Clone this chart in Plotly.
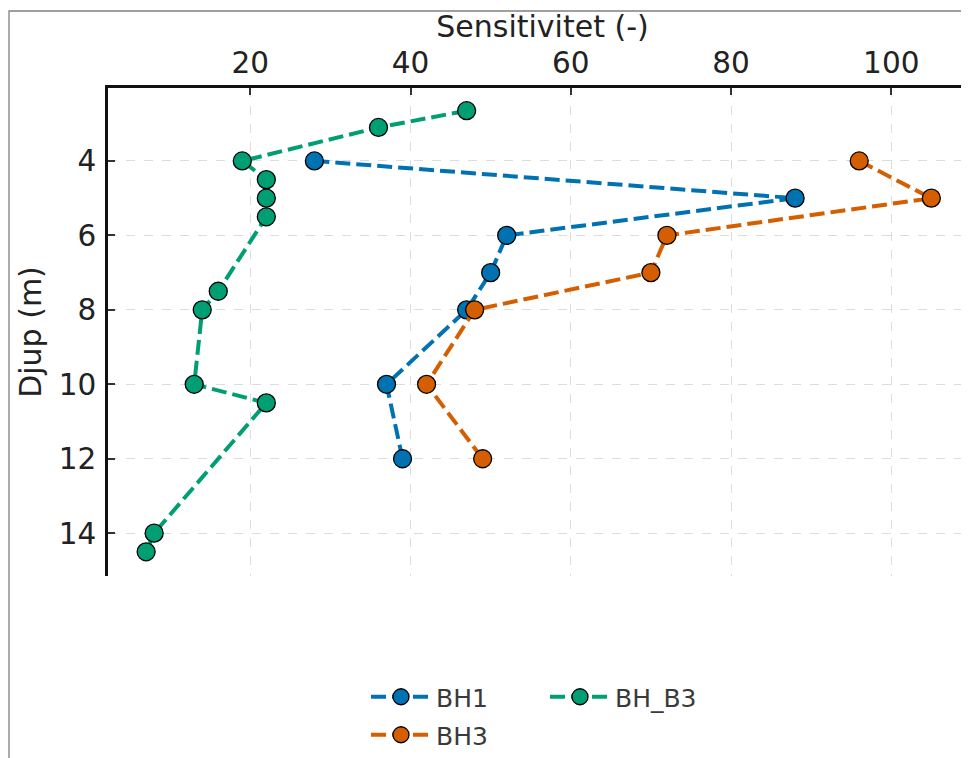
import plotly.graph_objects as go

# Data
depth_bh1 = [4, 5, 6, 7, 8, 10, 12]
sens_bh1 = [28, 88, 52, 50, 47, 37, 39]

depth_bh3 = [4, 5, 6, 7, 8, 10, 12]
sens_bh3 = [96, 105, 72, 70, 48, 42, 49]

depth_bhb3 = [2.65, 3.1, 4, 4.5, 5, 5.5, 7.5, 8, 10, 10.5, 14, 14.5]
sens_bhb3 = [47, 36, 19, 22, 22, 22, 16, 14, 13, 22, 8, 7]

series_names = ["BH1", "BH3", "BH_B3"]
colors = ["#0072B2", "#D55E00", "#009E73"]

FONT = "DejaVu Sans"

fig = go.Figure()
data = [(sens_bh1, depth_bh1), (sens_bh3, depth_bh3), (sens_bhb3, depth_bhb3)]
legends = ["legend", "legend2", "legend3"]
for (xs, ys), name, col, lg in zip(data, series_names, colors, legends):
    fig.add_trace(go.Scatter(
        x=xs, y=ys, name=name, mode="lines+markers",
        line=dict(color=col, width=4, dash="15px,6px"),
        marker=dict(size=18, color=col, line=dict(color="black", width=1.3)),
        legend=lg,
    ))

# page offset (browser body margin)
OFF = 8
W, H = 969, 758
ml, mr, mt, mb = 100, 0, 80, 190
pw, ph = W - ml - mr, H - mt - mb

def px_x(p):  # screen px -> paper
    return (p - OFF - ml) / pw

def px_y(p):
    return 1 - (p - OFF - mt) / ph

legend_font = dict(family=FONT, size=25, color="#3a3a3a")
common_leg = dict(bgcolor="rgba(0,0,0,0)", borderwidth=0, font=legend_font,
                  xanchor="left", yanchor="middle", orientation="v", itemwidth=60)

fig.update_layout(
    width=W, height=H,
    margin=dict(l=ml, r=mr, t=mt, b=mb, autoexpand=False),
    paper_bgcolor="white", plot_bgcolor="white",
    font=dict(family=FONT, color="#222222"),
    showlegend=True,
    legend=dict(x=px_x(366), y=px_y(697), **common_leg),
    legend2=dict(x=px_x(366), y=px_y(735), **common_leg),
    legend3=dict(x=px_x(545), y=px_y(697), **common_leg),
    xaxis=dict(
        side="top", range=[2.24, 110.7],
        tickvals=[20, 40, 60, 80, 100],
        tickfont=dict(family=FONT, size=29.5, color="#222222"),
        ticks="inside", ticklen=7, tickwidth=1.5, tickcolor="#333333",
        ticklabelstandoff=0,
        showline=True, linecolor="#111111", linewidth=2.5, mirror=False,
        showgrid=True, gridcolor="#dddddd", gridwidth=1, griddash="dash",
        zeroline=False,
        title=dict(text="Sensitivitet (-)", font=dict(family=FONT, size=30, color="#222222"), standoff=0),
        automargin=False,
    ),
    yaxis=dict(
        range=[15.15, 2.04],
        tickvals=[4, 6, 8, 10, 12, 14],
        tickfont=dict(family=FONT, size=29.5, color="#222222"),
        ticks="inside", ticklen=7, tickwidth=1.5, tickcolor="#333333",
        ticklabelstandoff=3,
        showline=True, linecolor="#111111", linewidth=2.5, mirror=False,
        showgrid=True, gridcolor="#dddddd", gridwidth=1, griddash="dash",
        zeroline=False,
        title=dict(text="Djup (m)", font=dict(family=FONT, size=30, color="#222222"), standoff=9),
        automargin=False,
    ),
    shapes=[
        dict(type="rect", xref="paper", yref="paper",
             x0=px_x(9), x1=1.2, y0=-0.6, y1=px_y(11),
             line=dict(color="#808080", width=1.3), fillcolor="rgba(0,0,0,0)", layer="below"),
    ],
)

fig.write_html("out.html")
